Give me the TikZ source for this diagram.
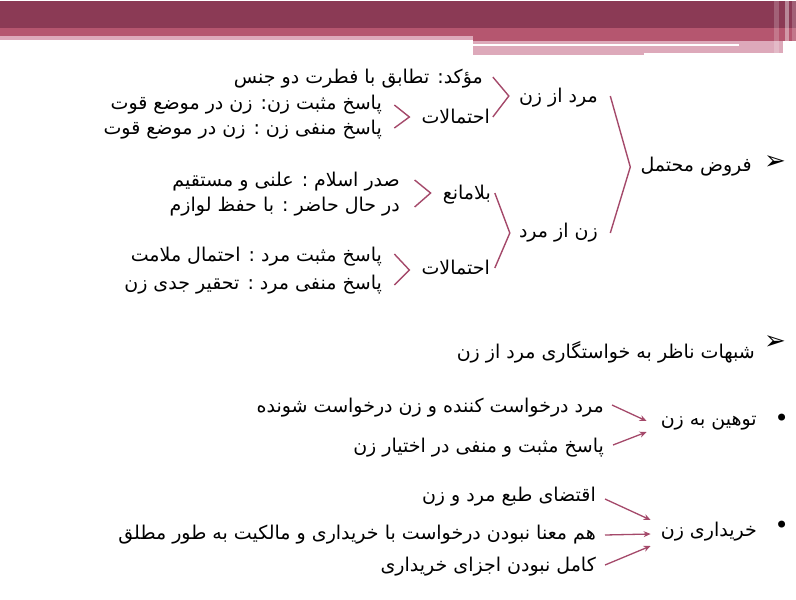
\documentclass[tikz,border=0pt]{standalone}
\usepackage{fontspec}
\setmainfont{DejaVu Sans}
\newfontfamily\farsi[Script=Arabic]{DejaVu Sans}
\TeXXeTstate=1
\usetikzlibrary{calc}
\usetikzlibrary{arrows.meta}
\definecolor{plumdark}{HTML}{8B3A55}
\definecolor{plummid}{HTML}{B5566F}
\definecolor{plumlight}{HTML}{DDA9BA}
\definecolor{plumline}{HTML}{A4496A}
\newcommand{\rl}[1]{\beginR #1\endR}
\tikzset{
  fa/.style={anchor=east, inner sep=0pt, font=\farsi\fontsize{19}{23}\selectfont},
  mark sym/.style={anchor=east, inner sep=0pt, font=\fontsize{26}{30}\selectfont},
  dot sym/.style={anchor=east, inner sep=0pt, font=\fontsize{24}{28}\selectfont},
  brk/.style={plumline, line width=1.4pt},
  arr/.style={plumline, line width=1.3pt, -{Stealth[length=7pt, width=6pt]}}
}

\begin{document}
\begin{tikzpicture}[x=1pt, y=-1pt]

\useasboundingbox (0,0) rectangle (796,600);

% header band
\fill [plumdark] (0,1) rectangle (796,28);
\fill [plummid] (0,28) rectangle (473,36);
\fill [plumlight] (0,36) rectangle (473,40);
\fill [plummid] (473,28) rectangle (796,41);
\fill [plumlight] (473,41) rectangle (783,53);
\fill [plumlight] (473,46) rectangle (644,55);
\fill [white] (473,44) rectangle (739,46);
\fill [white, opacity=0.2] (774,1) rectangle (779,55);
\fill [white, opacity=0.4] (785,1) rectangle (789,55);
\fill [white, opacity=0.2] (792,1) rectangle (796,55);

% first group
\node [mark sym] (b1) at (786,163) {➢};
\node [fa] (root) at (752,167) {\rl{فروض محتمل}};
\node [fa] (mz) at (598,98) {\rl{مرد از زن}};
\node [fa] (zm) at (598,233) {\rl{زن از مرد}};

\node [fa] (mok) at (483,79) {\rl{مؤکد: تطابق با فطرت دو جنس}};
\node [fa] (eh1) at (490,117) {\rl{احتمالات}};
\node [fa] (pz1) at (382,105) {\rl{پاسخ مثبت زن: زن در موضع قوت}};
\node [fa] (pz2) at (382,130) {\rl{پاسخ منفی زن : زن در موضع قوت}};

\node [fa] (bla) at (491,195) {\rl{بلامانع}};
\node [fa] (sadr) at (400,182) {\rl{صدر اسلام : علنی و مستقیم}};
\node [fa] (hal) at (400,207) {\rl{در حال حاضر : با حفظ لوازم}};
\node [fa] (eh2) at (490,268) {\rl{احتمالات}};
\node [fa] (pm1) at (382,257) {\rl{پاسخ مثبت مرد : احتمال ملامت}};
\node [fa] (pm2) at (382,285) {\rl{پاسخ منفی مرد : تحقیر جدی زن}};

\draw [brk] ($(mz.east -| root.west)+(-30,-2)$) -- ($(root.west)+(-10,0)$) -- ($(zm.east -| root.west)+(-30,0)$);
\draw [brk] ($(mok.east -| mz.west)+(-26,-2)$) -- ($(mz.west)+(-10,-2)$) -- ($(eh1.east -| mz.west)+(-26,0)$);
\draw [brk] ($(bla.east -| zm.west)+(-24,-2)$) -- ($(zm.west)+(-9,0)$) -- ($(eh2.east -| zm.west)+(-24,0)$);
\draw [brk] ($(pz1.east -| eh1.west)+(-27,0)$) -- ($(eh1.west)+(-12,0)$) -- ($(pz2.east -| eh1.west)+(-27,-2)$);
\draw [brk] ($(sadr.east -| bla.west)+(-28,-2)$) -- ($(bla.west)+(-12,-2)$) -- ($(hal.east -| bla.west)+(-28,0)$);
\draw [brk] ($(pm1.east -| eh2.west)+(-27,-3)$) -- ($(eh2.west)+(-12,2)$) -- ($(pm2.east -| eh2.west)+(-27,0)$);

% second group
\node [mark sym] (b2) at (786,343) {➢};
\node [fa] (shob) at (755,352) {\rl{شبهات ناظر به خواستگاری مرد از زن}};

\node [dot sym] (b3) at (789,420) {•};
\node [fa] (tow) at (757,423) {\rl{توهین به زن}};
\node [fa] (tw1) at (604,408) {\rl{مرد درخواست کننده و زن درخواست شونده}};
\node [fa] (tw2) at (604,448) {\rl{پاسخ مثبت و منفی در اختیار زن}};
\draw [arr] ($(tw1.east)+(8,-3)$) -- ($(tow.west)+(-14,-2)$);
\draw [arr] ($(tw2.east)+(9,-3)$) -- ($(tow.west)+(-14,9)$);

\node [dot sym] (b4) at (789,527) {•};
\node [fa] (kh) at (757,532) {\rl{خریداری زن}};
\node [fa] (kh1) at (596,497) {\rl{اقتضای طبع مرد و زن}};
\node [fa] (kh2) at (596,535) {\rl{هم معنا نبودن درخواست با خریداری و مالکیت به طور مطلق}};
\node [fa] (kh3) at (596,567) {\rl{کامل نبودن اجزای خریداری}};
\draw [arr] ($(kh1.east)+(9,2)$) -- ($(kh.west)+(-10,-12)$);
\draw [arr] ($(kh2.east)+(9,0)$) -- ($(kh.west)+(-10,2)$);
\draw [arr] ($(kh3.east)+(9,-2)$) -- ($(kh.west)+(-10,14)$);

\end{tikzpicture}
\end{document}
